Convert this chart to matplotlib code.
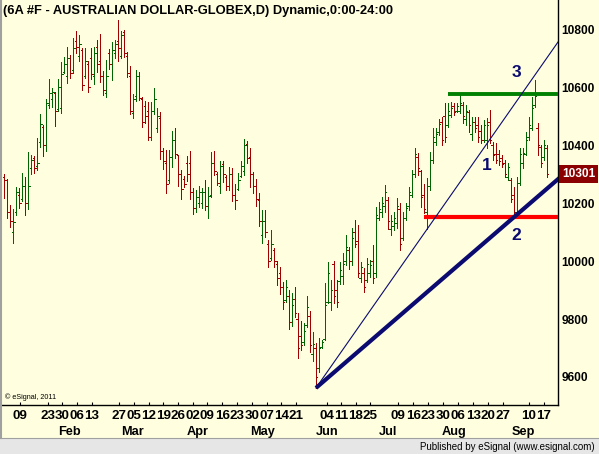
import numpy as np
import matplotlib
matplotlib.use('Agg')
import matplotlib.pyplot as plt
import matplotlib.transforms as mtransforms
from matplotlib.patches import Rectangle
from matplotlib.lines import Line2D

plt.rcParams['font.family'] = ['Liberation Sans', 'DejaVu Sans']

# daily bars, 6A (AUD futures)
opens = [10290, 10280, 10170, 10100, 10170, 10230, 10215, 10260, 10200, 10320,
         10355, 10330, 10410, 10465, 10400, 10540, 10560, 10580, 10525, 10530,
         10655, 10640, 10700, 10660, 10760, 10710, 10730, 10640, 10680, 10700,
         10640, 10740, 10690, 10640, 10580, 10720, 10680, 10720, 10760, 10710,
         10790, 10710, 10640, 10510, 10570, 10640, 10560, 10535, 10520, 10430,
         10520, 10460, 10495, 10380, 10340, 10280, 10360, 10420, 10365, 10300,
         10285, 10340, 10340, 10240, 10185, 10200, 10200, 10240, 10190, 10230,
         10340, 10300, 10260, 10335, 10290, 10260, 10300, 10230, 10250, 10295,
         10310, 10405, 10360, 10300, 10260, 10210, 10090, 10140, 10060, 10010,
         10040, 9990, 9960, 9910, 9865, 9880, 9790, 9870, 9800, 9740,
         9720, 9780, 9810, 9680, 9700, 9630, 9705, 9730, 9860, 9860,
         9990, 9900, 9930, 9950, 10000, 10040, 10000, 10100, 10070, 9940,
         9960, 9935, 9960, 10000, 9960, 10150, 10170, 10190, 10210, 10110,
         10120, 10130, 10180, 10080, 10150, 10190, 10230, 10300, 10360, 10310,
         10230, 10170, 10260, 10350, 10410, 10445, 10480, 10500, 10470, 10505,
         10535, 10520, 10520, 10540, 10490, 10515, 10440, 10480, 10470, 10450,
         10420, 10420, 10480, 10400, 10370, 10370, 10355, 10340, 10290, 10280,
         10230, 10170, 10270, 10340, 10370, 10430, 10460, 10540, 10460, 10395,
         10360, 10390]
highs = [10301, 10284, 10194, 10180, 10256, 10252, 10304, 10290, 10377, 10366,
         10363, 10425, 10508, 10470, 10560, 10629, 10598, 10584, 10629, 10688,
         10705, 10740, 10712, 10771, 10795, 10781, 10736, 10736, 10691, 10736,
         10740, 10764, 10785, 10657, 10695, 10733, 10757, 10764, 10833, 10795,
         10798, 10722, 10674, 10577, 10660, 10653, 10567, 10553, 10550, 10550,
         10598, 10529, 10515, 10391, 10384, 10384, 10449, 10460, 10366, 10315,
         10294, 10363, 10380, 10252, 10246, 10259, 10252, 10280, 10256, 10377,
         10380, 10308, 10346, 10346, 10297, 10325, 10322, 10266, 10304, 10346,
         10422, 10415, 10391, 10308, 10284, 10235, 10177, 10177, 10073, 10107,
         10045, 10000, 9980, 9928, 9935, 9900, 9890, 9910, 9821, 9793,
         9786, 9879, 9828, 9755, 9717, 9734, 9727, 9924, 9997, 9935,
         10000, 9935, 9997, 10028, 10090, 10049, 10114, 10142, 10125, 9997,
         9976, 10011, 10004, 10056, 10187, 10204, 10221, 10263, 10221, 10159,
         10170, 10218, 10201, 10170, 10201, 10256, 10315, 10391, 10373, 10315,
         10266, 10287, 10377, 10460, 10460, 10491, 10498, 10546, 10546, 10550,
         10546, 10546, 10577, 10550, 10539, 10522, 10498, 10498, 10498, 10470,
         10487, 10494, 10522, 10411, 10408, 10384, 10366, 10349, 10339, 10287,
         10256, 10290, 10391, 10391, 10446, 10498, 10567, 10626, 10477, 10401,
         10418, 10401]
lows = [10218, 10149, 10118, 10062, 10159, 10183, 10208, 10159, 10180, 10301,
        10304, 10315, 10394, 10363, 10380, 10529, 10532, 10467, 10518, 10512,
        10650, 10615, 10633, 10650, 10719, 10691, 10591, 10633, 10584, 10629,
        10612, 10653, 10619, 10574, 10567, 10664, 10626, 10702, 10691, 10702,
        10705, 10636, 10508, 10494, 10553, 10557, 10463, 10477, 10418, 10418,
        10508, 10446, 10353, 10318, 10235, 10270, 10325, 10356, 10259, 10215,
        10256, 10277, 10215, 10163, 10170, 10187, 10183, 10177, 10149, 10221,
        10297, 10263, 10235, 10273, 10246, 10246, 10208, 10180, 10246, 10290,
        10297, 10339, 10256, 10235, 10190, 10121, 10062, 10083, 9980, 10004,
        9980, 9917, 9886, 9834, 9859, 9765, 9776, 9807, 9665, 9693,
        9710, 9772, 9686, 9655, 9562, 9617, 9700, 9727, 9855, 9831,
        9855, 9841, 9921, 9921, 9986, 9973, 9986, 10049, 9945, 9928,
        9893, 9928, 9945, 9924, 9945, 10142, 10152, 10170, 10111, 10090,
        10107, 10114, 10038, 10073, 10142, 10177, 10221, 10290, 10297, 10187,
        10166, 10110, 10246, 10339, 10401, 10436, 10401, 10411, 10463, 10498,
        10505, 10515, 10512, 10477, 10470, 10446, 10418, 10446, 10411, 10408,
        10411, 10391, 10408, 10349, 10339, 10332, 10325, 10290, 10280, 10204,
        10152, 10159, 10263, 10322, 10366, 10418, 10453, 10532, 10366, 10325,
        10349, 10290]
closes = [10280, 10170, 10140, 10135, 10240, 10200, 10260, 10200, 10260, 10350,
          10320, 10340, 10475, 10400, 10545, 10580, 10585, 10520, 10600, 10645,
          10680, 10700, 10650, 10735, 10740, 10750, 10610, 10690, 10600, 10645,
          10720, 10680, 10640, 10590, 10640, 10680, 10730, 10750, 10735, 10780,
          10720, 10650, 10520, 10560, 10640, 10565, 10480, 10500, 10430, 10520,
          10560, 10500, 10380, 10345, 10265, 10360, 10420, 10370, 10300, 10250,
          10265, 10300, 10240, 10185, 10220, 10240, 10240, 10190, 10225, 10340,
          10310, 10270, 10330, 10300, 10260, 10300, 10230, 10210, 10280, 10330,
          10400, 10355, 10300, 10260, 10215, 10140, 10140, 10100, 10000, 10060,
          10000, 9940, 9910, 9860, 9910, 9790, 9850, 9820, 9700, 9710,
          9760, 9840, 9710, 9715, 9600, 9700, 9720, 9850, 9960, 9900,
          9880, 9860, 9970, 9990, 10050, 10000, 10080, 10060, 9960, 9980,
          9910, 9990, 9985, 9940, 10160, 10180, 10200, 10240, 10140, 10140,
          10150, 10190, 10060, 10150, 10185, 10240, 10300, 10370, 10320, 10220,
          10180, 10260, 10350, 10430, 10440, 10475, 10420, 10430, 10520, 10530,
          10515, 10535, 10545, 10500, 10520, 10470, 10480, 10460, 10430, 10420,
          10470, 10470, 10420, 10365, 10350, 10345, 10335, 10300, 10325, 10215,
          10170, 10270, 10370, 10375, 10420, 10470, 10530, 10570, 10400, 10340,
          10400, 10301]

week_labels = ['09', '23', '30', '06', '13', '27', '05', '12', '19', '26', '02', '09',
               '16', '23', '30', '07', '14', '21', '04', '11', '18', '25', '09', '16',
               '23', '30', '06', '13', '20', '27', '10', '17']
week_pos = [5.3, 14.5, 19.4, 24.3, 29.3, 38.3, 43.3, 48.2, 53.1, 58.0, 63.0, 67.8,
            72.8, 77.7, 82.6, 87.5, 92.4, 97.3, 107.7, 112.5, 117.3, 122.0, 131.4, 136.4,
            141.4, 146.4, 151.4, 156.4, 161.4, 166.4, 174.9, 180.0]
month_labels = ['Feb', 'Mar', 'Apr', 'May', 'Jun', 'Jul', 'Aug', 'Sep']
month_pos = [21.7, 42.8, 64.7, 86.2, 107.7, 128.0, 150.0, 173.2]

bg = '#FFFFE0'
up_col = '#006400'
dn_col = '#A00000'
navy = '#0A0A70'

fig = plt.figure(figsize=(5.99, 4.54), dpi=100, facecolor=bg)
ax = fig.add_axes([2/599, 49/454, 556/599, 405/454])
ax.set_facecolor(bg)

o = np.array(opens, dtype=float)
h = np.array(highs, dtype=float)
l = np.array(lows, dtype=float)
c = np.array(closes, dtype=float)
x = np.arange(len(o))
cols = [up_col if cc >= oo else dn_col for oo, cc in zip(o, c)]

ax.vlines(x, l, h, colors=cols, linewidth=0.72, antialiased=False)
ax.hlines(o, x - 0.5, x, colors=cols, linewidth=0.72, antialiased=False)
ax.hlines(c, x, x + 0.5, colors=cols, linewidth=0.72, antialiased=False)

xmin, xmax = -0.67, 184.67
ax.set_xlim(xmin, xmax)
ax.set_ylim(9503, 10902)

# trend lines from the June low
i_low = int(np.argmin(l))
x_far = 190

def trend(a, b):
    slope = (l[b] - l[a]) / (b - a)
    return [a, x_far], [l[a], l[a] + slope * (x_far - a)]

tx, ty = trend(i_low, 141)
ax.plot(tx, ty, color=navy, linewidth=0.8, zorder=5)
tx, ty = trend(i_low, 170)
ax.plot(tx, ty, color=navy, linewidth=3.0, zorder=5, solid_capstyle='butt')

ax.hlines(l[170], 140, x_far, colors='#FF0000', linewidth=3.0, zorder=4)
ax.hlines(h[152], 148, x_far, colors='#008000', linewidth=2.8, zorder=4)

for txt, px, py in [('1', 161, 10332), ('2', 170.7, 10087), ('3', 170.7, 10650)]:
    ax.text(px, py, txt, color=navy, fontsize=12.5, fontweight='bold',
            ha='center', va='center', zorder=6)

for s in ['left', 'top']:
    ax.spines[s].set_visible(False)
ax.spines['right'].set_linewidth(1.0)
ax.spines['bottom'].set_linewidth(1.0)

ax.yaxis.tick_right()
ax.set_yticks(np.arange(9600, 10801, 200))
ax.set_yticklabels([str(v) for v in range(9600, 10801, 200)], fontweight='bold', fontsize=8.6)
ax.tick_params(axis='y', length=0, pad=2.3)

ax.set_xticks(week_pos)
ax.set_xticklabels(week_labels, fontweight='bold', fontsize=9.6)
ax.tick_params(axis='x', direction='in', length=2, width=0.8, pad=3.5)

xtr = ax.get_xaxis_transform()
for lab, pos in zip(month_labels, month_pos):
    ax.text(pos, -0.067, lab, transform=xtr, ha='center', va='center',
            fontweight='bold', fontsize=9.2, clip_on=False)

# last price box
btr = mtransforms.blended_transform_factory(ax.transAxes, ax.transData)
ax.text(1.0 + 4/556, c[-1], '%d' % c[-1], transform=btr, ha='left', va='center',
        color='white', fontweight='bold', fontsize=8.6, clip_on=False,
        bbox=dict(boxstyle='square,pad=0.22', facecolor='#8B0000', edgecolor='none'))

fig.text(3/599, 1 - 11/454, '(6A #F - AUSTRALIAN DOLLAR-GLOBEX,D) Dynamic,0:00-24:00',
         ha='left', va='center', fontweight='bold', fontsize=9.3)
fig.text(5/599, 1 - 397/454, '\u00a9 eSignal, 2011', ha='left', va='center', fontsize=5.2)

# status bar at the bottom
fig.patches.append(Rectangle((0, 0), 1, 16/454, transform=fig.transFigure,
                             facecolor='#E6E6E6', edgecolor='none'))
fig.lines.append(Line2D([0, 1], [16/454, 16/454], transform=fig.transFigure,
                        color='#A0A0A0', linewidth=0.8))
fig.lines.append(Line2D([1/599, 1/599], [16/454, 1], transform=fig.transFigure,
                        color='#A0A0A0', linewidth=1.5))
fig.text(595/599, 1 - 447/454, 'Published by eSignal (www.esignal.com)',
         ha='right', va='center', fontsize=7)

fig.savefig('out.png', dpi=100, facecolor=bg)
